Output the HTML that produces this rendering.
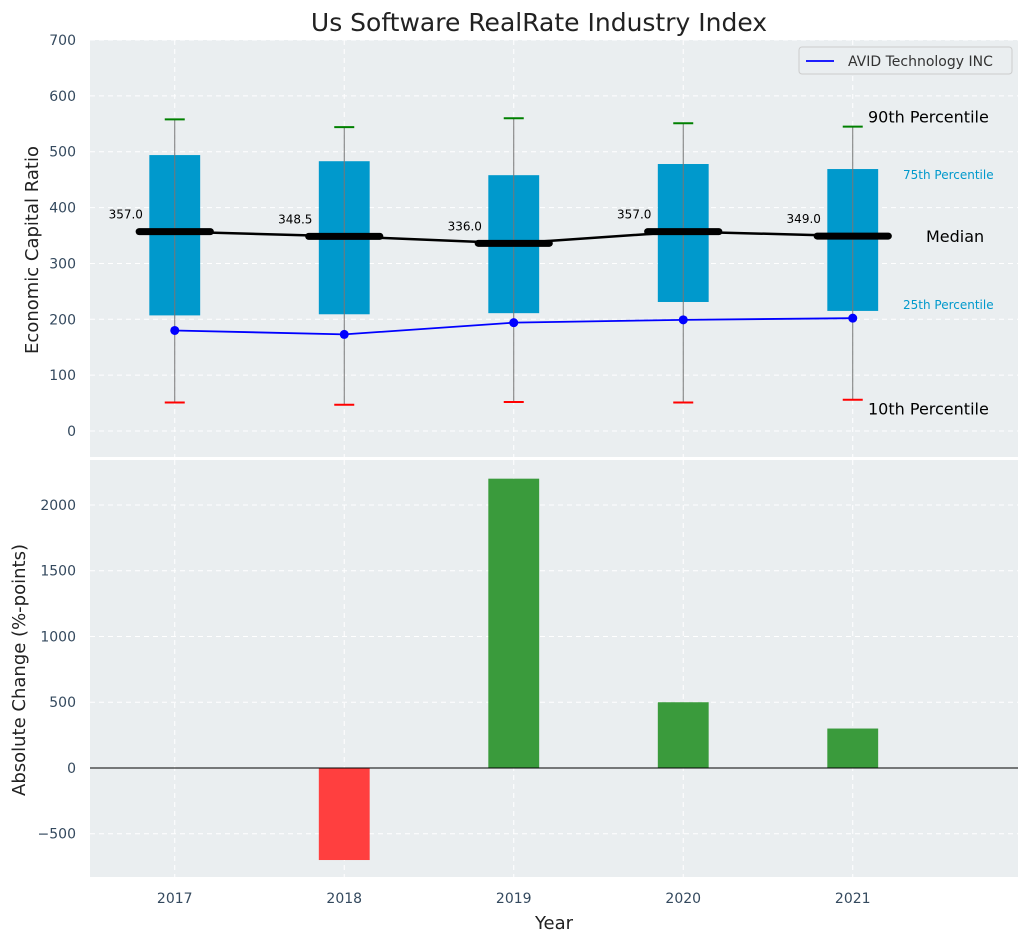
<!DOCTYPE html>
<html><head><meta charset="utf-8"><style>
body{margin:0;background:#fff;}
svg text{font-family:"DejaVu Sans","Liberation Sans",sans-serif;}
</style></head><body>
<svg id="c" width="1029" height="942" xmlns="http://www.w3.org/2000/svg"></svg>
<script>
const years=[2017,2018,2019,2020,2021];
const p10=[51,47,52,51,56];
const q1=[207,209,211,231,215];
const median=[357,348.5,336,357,349];
const q3=[494,483,458,478,469];
const p90=[558,544,560,551,545];
const avid=[180,173,194,199,202];
const change=[0,-700,2200,500,300];
const topTicks=[0,100,200,300,400,500,600,700];
const botTicks=[-500,0,500,1000,1500,2000];

const svg=document.getElementById('c');
const NS='http://www.w3.org/2000/svg';
function el(t,a,txt,parent){const e=document.createElementNS(NS,t);for(const k in a)e.setAttribute(k,a[k]);if(txt!==undefined)e.textContent=txt;(parent||svg).appendChild(e);return e;}
const L=90,R=1018;
const X=v=>L+(v-2016.5)*(R-L)/(2021.975-2016.5);
const T0=40,T1=457,B0=460,B1=877;
const Yt=v=>T1-(v+46.5)*(T1-T0)/(700+46.5);
const Yb=v=>B1-(v+829)*(B1-B0)/(2342+829);

let e;
e=el('text',{x:539,y:31,'font-size':25,'text-anchor':'middle',fill:'#222'},'Us Software RealRate Industry Index');


e=el('rect',{x:L,y:T0,width:R-L,height:T1-T0,fill:'#eaeef0'});

e=el('rect',{x:L,y:B0,width:R-L,height:B1-B0,fill:'#eaeef0'});


years.forEach(y=>{
  el('line',{x1:X(y),x2:X(y),y1:T0,y2:T1,stroke:'#fff','stroke-dasharray':'5,4','stroke-width':1});
  el('line',{x1:X(y),x2:X(y),y1:B0,y2:B1,stroke:'#fff','stroke-dasharray':'5,4','stroke-width':1});
  e=el('text',{x:X(y),y:903,'font-size':14,'text-anchor':'middle',fill:'#34495e'},String(y));
  
});
topTicks.forEach(t=>{
  el('line',{x1:L,x2:R,y1:Yt(t),y2:Yt(t),stroke:'#fff','stroke-dasharray':'5,4','stroke-width':1});
  e=el('text',{x:76,y:Yt(t)+5,'font-size':14,'text-anchor':'end',fill:'#34495e'},String(t));
  
});
botTicks.forEach(t=>{
  el('line',{x1:L,x2:R,y1:Yb(t),y2:Yb(t),stroke:'#fff','stroke-dasharray':'5,4','stroke-width':1});
  e=el('text',{x:76,y:Yb(t)+5,'font-size':14,'text-anchor':'end',fill:'#34495e'},String(t).replace('-','\u2212'));
  
});

const bw=(X(2018)-X(2017))*0.3;
const mw=(X(2018)-X(2017))*0.42;
years.forEach((y,i)=>{
  const x=X(y);
  e=el('rect',{x:x-bw/2,y:Yt(q3[i]),width:bw,height:Yt(q1[i])-Yt(q3[i]),fill:'#0099cc'});
  
  e=el('line',{x1:x,x2:x,y1:Yt(p90[i]),y2:Yt(p10[i]),stroke:'#777','stroke-width':1});
  
  e=el('line',{x1:x-10,x2:x+10,y1:Yt(p90[i]),y2:Yt(p90[i]),stroke:'green','stroke-width':2});
  
  e=el('line',{x1:x-10,x2:x+10,y1:Yt(p10[i]),y2:Yt(p10[i]),stroke:'red','stroke-width':2});
  
});
e=el('polyline',{points:years.map((y,i)=>X(y)+','+Yt(median[i])).join(' '),fill:'none',stroke:'#000','stroke-width':2.5});

years.forEach((y,i)=>{
  const x=X(y);
  e=el('line',{x1:x-mw/2,x2:x+mw/2,y1:Yt(median[i]),y2:Yt(median[i]),stroke:'#000','stroke-width':7,'stroke-linecap':'round'});
  
  e=el('text',{x:x-49,y:Yt(median[i])-13,'font-size':12,'text-anchor':'middle',fill:'#000'},median[i].toFixed(1));
  
});
e=el('polyline',{points:years.map((y,i)=>X(y)+','+Yt(avid[i])).join(' '),fill:'none',stroke:'#0000ff','stroke-width':1.8});

years.forEach((y,i)=>{
  e=el('circle',{cx:X(y),cy:Yt(avid[i]),r:4.5,fill:'#0000ff'});
  
});
const last=years.length-1;
e=el('text',{x:868,y:Yt(p90[last])-4,'font-size':16,fill:'#000'},'90th Percentile');

e=el('text',{x:903,y:Yt(q3[last])+10,'font-size':12,fill:'#0099cc'},'75th Percentile');

e=el('text',{x:926,y:Yt(median[last])+6,'font-size':16,fill:'#000'},'Median');

e=el('text',{x:903,y:Yt(q1[last])-2,'font-size':12,fill:'#0099cc'},'25th Percentile');

e=el('text',{x:868,y:Yt(p10[last])+15,'font-size':16,fill:'#000'},'10th Percentile');


const lg=el('g',{});

el('rect',{x:799,y:47,width:213,height:27,fill:'#eaeef0',stroke:'#ccc',rx:3},undefined,lg);
el('line',{x1:806,x2:834,y1:61,y2:61,stroke:'#0000ff','stroke-width':1.8},undefined,lg);
e=el('text',{x:848,y:66,'font-size':14,fill:'#333'},'AVID Technology INC',lg);


years.forEach((y,i)=>{
  const v=change[i];
  e=el('rect',{x:X(y)-bw/2,y:Math.min(Yb(0),Yb(v)),width:bw,height:Math.abs(Yb(v)-Yb(0)),fill:v>=0?'#3a9b3c':'#ff3f3f'});
  
});
e=el('line',{x1:L,x2:R,y1:Yb(0),y2:Yb(0),stroke:'#000','stroke-width':1});


e=el('text',{x:0,y:0,'font-size':18,'text-anchor':'middle',fill:'#222',transform:'translate(38,250) rotate(-90)'},'Economic Capital Ratio');

e=el('text',{x:0,y:0,'font-size':18,'text-anchor':'middle',fill:'#222',transform:'translate(25,670) rotate(-90)'},'Absolute Change (%-points)');

e=el('text',{x:554,y:929,'font-size':18,'text-anchor':'middle',fill:'#222'},'Year');

</script>
</body></html>
